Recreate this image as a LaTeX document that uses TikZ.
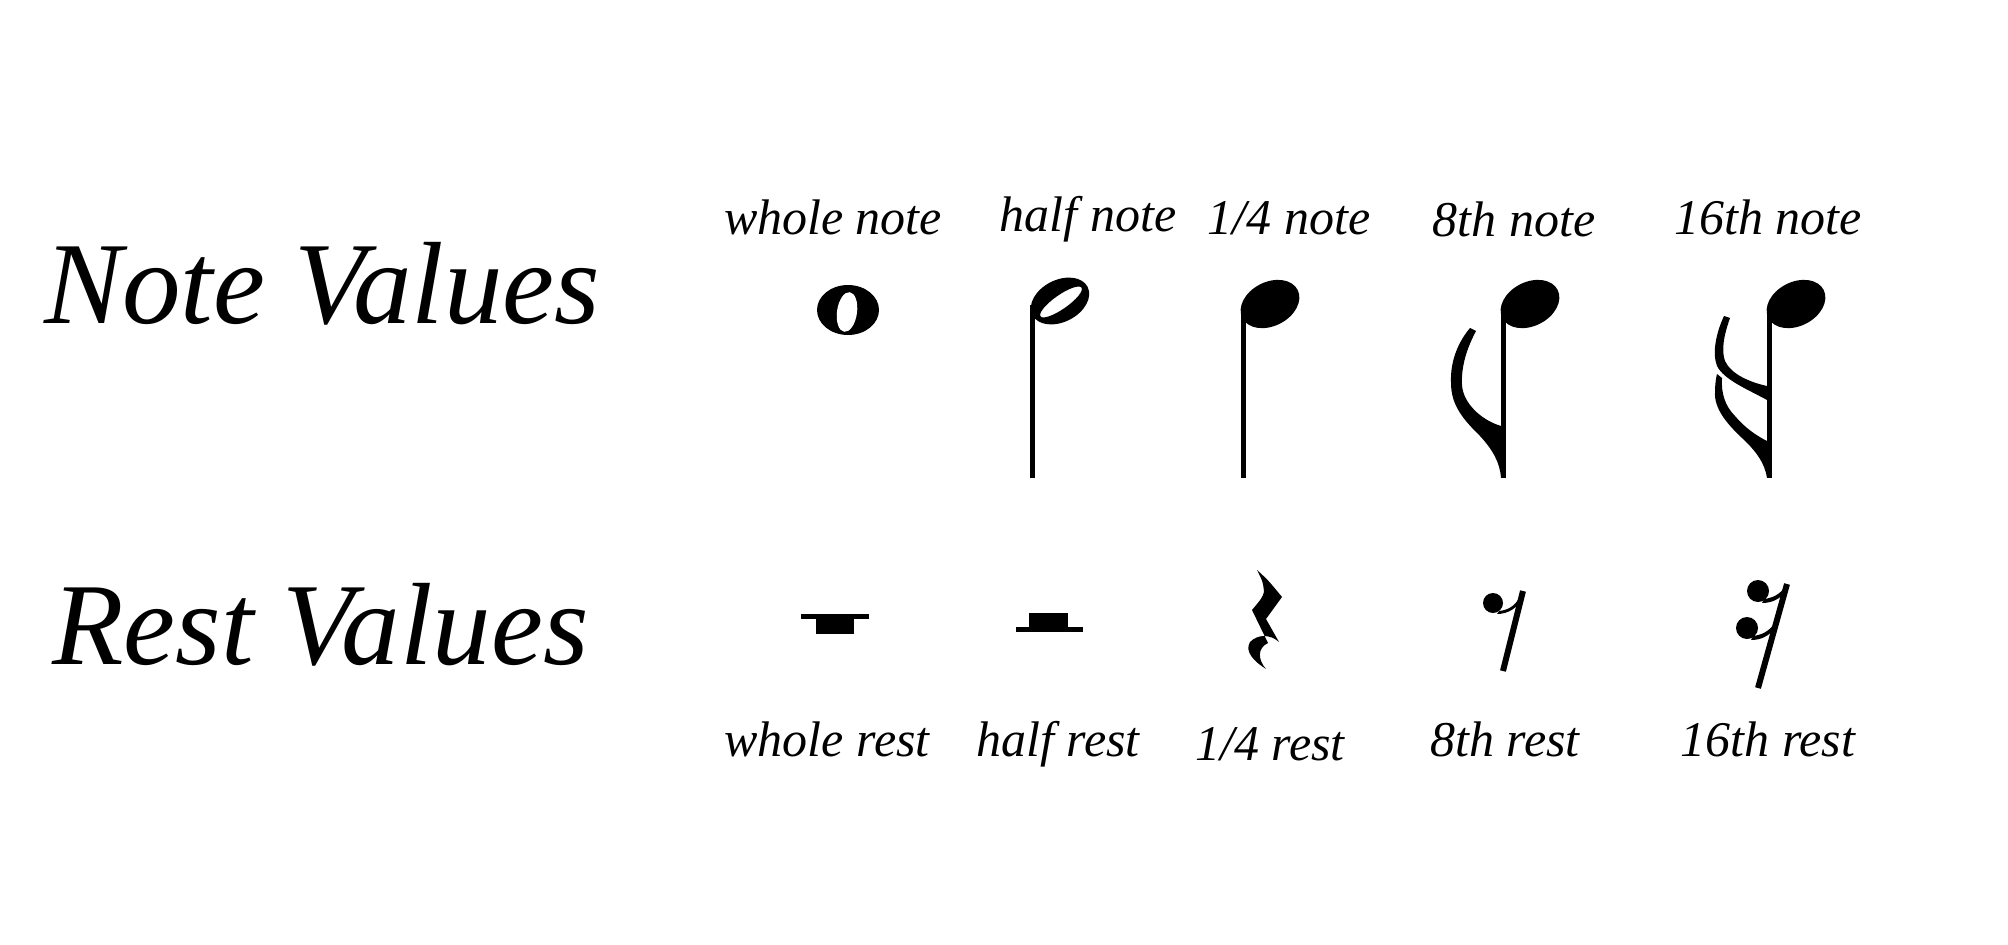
\documentclass[tikz,border=0pt]{standalone}
\usepackage{fontspec}
\setmainfont{Liberation Serif}

\begin{document}
\begin{tikzpicture}[
  x=1pt, y=-1pt,
  rowtitle/.style={font=\fontsize{117}{134}\selectfont\itshape, anchor=base west, inner sep=0pt},
  valname/.style={font=\fontsize{50}{58}\selectfont\itshape, anchor=base, inner sep=0pt},
  ink/.style={fill=black},
  stemline/.style={draw=black, line width=6pt},
]

% Background
\fill[white] (0,0) rectangle (2008,945);
\useasboundingbox (0,0) rectangle (2008,945);

% Row titles
\node[rowtitle] (notetitle) at (44,323) {Note Values};
\node[rowtitle] (resttitle) at (52,664) {Rest Values};

% Note names (top)
\def\topY{234}
\node[valname] (nwhole)   at (833,\topY)  {whole note};
\node[valname] (nhalf)    at (1088,231)   {half note};
\node[valname] (nquarter) at (1289,\topY) {1/4 note};
\node[valname] (neighth)  at (1514,236)   {8th note};
\node[valname] (nsixteen) at (1768,\topY) {16th note};

% Rest names (bottom)
\def\botY{756}
\node[valname] (rwhole)   at (827,\botY)  {whole rest};
\node[valname] (rhalf)    at (1058,\botY) {half rest};
\node[valname] (rquarter) at (1270,760)   {1/4 rest};
\node[valname] (reighth)  at (1505,\botY) {8th rest};
\node[valname] (rsixteen) at (1768,\botY) {16th rest};

% Whole note
\fill[ink] (848,310) ellipse [x radius=31pt, y radius=25pt];
\fill[white, rotate around={-8:(847,312)}] (847,312) ellipse [x radius=10pt, y radius=20pt];

% Half note
\fill[ink] (1030,305) rectangle (1035,478);
\fill[ink, even odd rule] (1060,301) ellipse [x radius=31pt, y radius=21pt, rotate=27]
  (1061,302) ellipse [x radius=25pt, y radius=7pt, rotate=35];

% Quarter note
\fill[ink] (1241,310) rectangle (1246,478);
\fill[ink] (1270,304) ellipse [x radius=31pt, y radius=22pt, rotate=27];

% Eighth note
\fill[ink] (1501,310) rectangle (1506,478);
\fill[ink] (1530,304) ellipse [x radius=31pt, y radius=22pt, rotate=27];
\begin{scope}[shift={(1501,478)}]
  \fill[ink] (0,0) .. controls (-1,-15) and (-8,-28) .. (-21,-42)
    .. controls (-37,-58) and (-50,-72) .. (-50,-95)
    .. controls (-51,-118) and (-42,-137) .. (-31,-150) -- (-25,-147)
    .. controls (-34,-130) and (-40,-112) .. (-39,-93)
    .. controls (-38,-75) and (-20,-58) .. (0,-52) -- cycle;
\end{scope}

% Sixteenth note
\fill[ink] (1767,310) rectangle (1772,478);
\fill[ink] (1796,304) ellipse [x radius=31pt, y radius=22pt, rotate=27];
\begin{scope}[shift={(1767,478)}]
  % upper flag
  \fill[ink] (0,-78) .. controls (-18,-88) and (-43,-98) .. (-50,-112)
    .. controls (-55,-125) and (-51,-145) .. (-43,-162) -- (-37,-160)
    .. controls (-43,-143) and (-46,-128) .. (-42,-117)
    .. controls (-36,-104) and (-18,-96) .. (0,-92) -- cycle;
  % lower flag
  \fill[ink] (0,0) .. controls (-2,-15) and (-12,-28) .. (-25,-40)
    .. controls (-41,-55) and (-53,-70) .. (-52,-86)
    .. controls (-52,-94) and (-51,-100) .. (-50,-104) -- (-45,-100)
    .. controls (-46,-85) and (-42,-72) .. (-32,-62)
    .. controls (-22,-50) and (-10,-42) .. (0,-37) -- cycle;
\end{scope}

% Whole rest
\fill[ink] (801,614) rectangle (869,619);
\fill[ink] (816,619) rectangle (854,634);

% Half rest
\fill[ink] (1016,627) rectangle (1083,632);
\fill[ink] (1029,613) rectangle (1068,627);

% Quarter rest
\fill[ink] (1257,570) .. controls (1268,580) .. (1282,597) -- (1266,619) -- (1279,642)
  .. controls (1270,634) and (1258,634) .. (1250,642)
  .. controls (1244,652) and (1255,662) .. (1266,669)
  .. controls (1258,660) and (1257,648) .. (1268,643) -- (1252,610)
  .. controls (1262,598) .. (1264,592) .. controls (1263,582) .. cycle;

% Eighth rest
\fill[ink] (1493,603) circle [radius=10pt];
\draw[stemline] (1523,591) -- (1503,671);
\fill[ink] (1499,611) .. controls (1510,610) and (1517,604) .. (1521,594)
  -- (1523,597) .. controls (1518,608) and (1508,614) .. (1497,614) -- cycle;

% Sixteenth rest
\fill[ink] (1758,591) circle [radius=11pt];
\fill[ink] (1747,628) circle [radius=11pt];
\draw[stemline] (1787,584) -- (1758,688);
\fill[ink] (1764,599) .. controls (1773,598) and (1780,594) .. (1785,587)
  -- (1786,591) .. controls (1780,599) and (1772,603) .. (1762,603) -- cycle;
\fill[ink] (1753,636) .. controls (1762,635) and (1769,631) .. (1774,624)
  -- (1775,628) .. controls (1769,636) and (1761,640) .. (1751,640) -- cycle;

\end{tikzpicture}
\end{document}
